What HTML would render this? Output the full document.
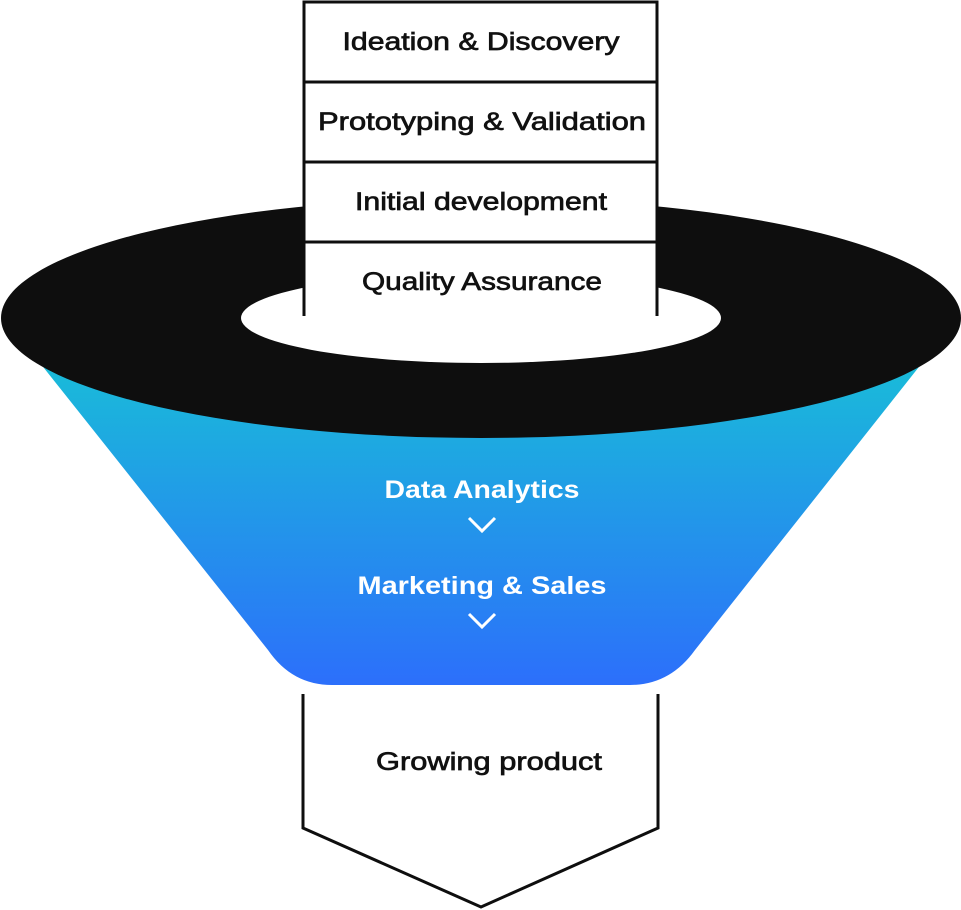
<!DOCTYPE html>
<html><head><meta charset="utf-8"><style>
html,body{margin:0;padding:0;background:#fff;width:961px;height:910px;overflow:hidden}
svg text{font-family:"Liberation Sans",sans-serif}
</style></head><body>
<svg width="961" height="910" viewBox="0 0 961 910" xmlns="http://www.w3.org/2000/svg">
<defs>
<linearGradient id="g" x1="0" y1="0" x2="0" y2="1">
<stop offset="0" stop-color="#19bdd8"/>
<stop offset="1" stop-color="#2c6ffb"/>
</linearGradient>
</defs>
<path d="M36,358 L926,358 L695,650 Q670,685 630,685 L332,685 Q292,685 268,650 Z" fill="url(#g)"/>
<ellipse cx="481" cy="318" rx="480" ry="120" fill="#0e0e0e"/>
<ellipse cx="481" cy="318" rx="240" ry="45" fill="#fff"/>
<rect x="303" y="2" width="355" height="240" fill="#fff"/>
<rect x="303" y="242" width="355" height="74" fill="#fff"/>
<g stroke="#0e0e0e" stroke-width="3" fill="none">
<path d="M304,316 L304,2 L657,2 L657,316"/>
<line x1="303" y1="82" x2="658" y2="82"/>
<line x1="303" y1="162" x2="658" y2="162"/>
<line x1="303" y1="242" x2="658" y2="242"/>
<path d="M303,694 L303,828 L481,907 L658,828 L658,694"/>
<path d="M469,518 L482,531 L495,518" stroke="#fff" stroke-width="3"/>
<path d="M469,614 L482,627 L495,614" stroke="#fff" stroke-width="3"/>
</g>
<g font-size="25" fill="#111" stroke="#111" stroke-width="0.7" text-anchor="middle" lengthAdjust="spacingAndGlyphs">
<text x="481" y="50" textLength="277" lengthAdjust="spacingAndGlyphs">Ideation &amp; Discovery</text>
<text x="482" y="130" textLength="328" lengthAdjust="spacingAndGlyphs">Prototyping &amp; Validation</text>
<text x="481" y="210" textLength="252" lengthAdjust="spacingAndGlyphs">Initial development</text>
<text x="482" y="290" textLength="240" lengthAdjust="spacingAndGlyphs">Quality Assurance</text>
<text x="489" y="770" textLength="226" lengthAdjust="spacingAndGlyphs">Growing product</text>
</g>
<g font-size="25" fill="#fff" text-anchor="middle" font-weight="bold">
<text x="482" y="498" textLength="195" lengthAdjust="spacingAndGlyphs">Data Analytics</text>
<text x="482" y="594" textLength="249" lengthAdjust="spacingAndGlyphs">Marketing &amp; Sales</text>
</g>
</svg>
</body></html>
